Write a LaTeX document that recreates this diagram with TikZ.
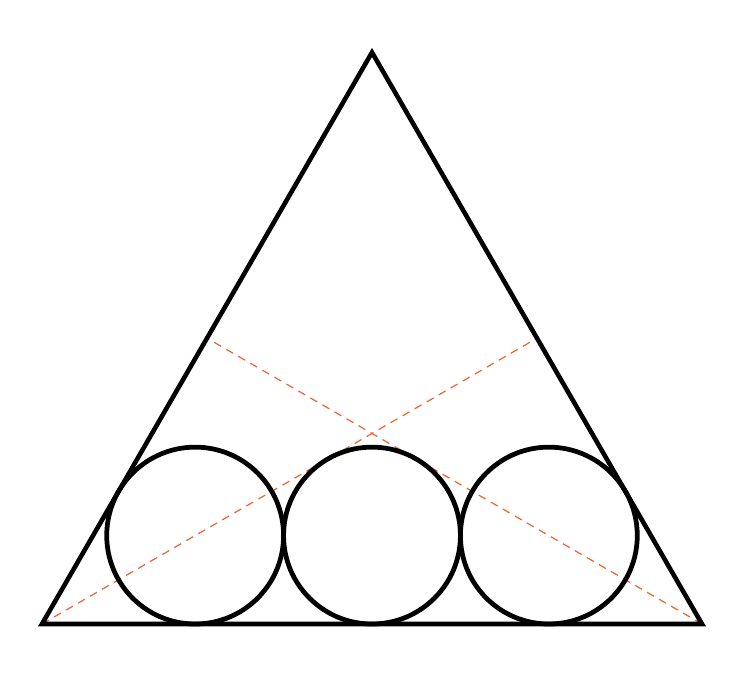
\documentclass[tikz,border=0pt]{standalone}
\usepackage{tikz}
\usetikzlibrary{calc}
\definecolor{bisect}{RGB}{240,100,50}

\begin{document}
\begin{tikzpicture}

\useasboundingbox (0,0) rectangle (14.88,13.82);

\coordinate (A) at (0.84,1.34);
\coordinate (B) at (14.04,1.34);
\coordinate (C) at (7.44,12.772);

\draw [bisect, dash pattern=on 4.5pt off 3.4pt, line width=0.7pt] (A) -- ($(B)!0.5!(C)$);
\draw [bisect, dash pattern=on 4.5pt off 3.4pt, line width=0.7pt] (B) -- ($(A)!0.5!(C)$);

\draw [line width=2.6pt] (A) -- (B) -- (C) -- cycle;

\draw [line width=2.7pt] (3.903,3.1085) circle (1.7685);
\draw [line width=2.7pt] (7.44,3.1085) circle (1.7685);
\draw [line width=2.7pt] (10.977,3.1085) circle (1.7685);

\end{tikzpicture}
\end{document}
